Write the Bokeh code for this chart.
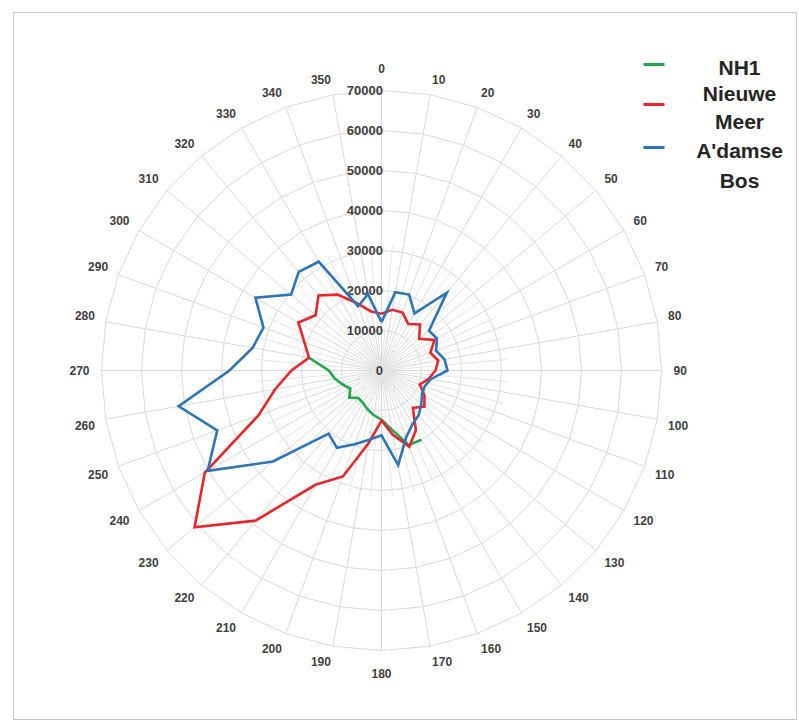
import numpy as np
from bokeh.plotting import figure
from bokeh.models import Range1d, ColumnDataSource
from bokeh.core.properties import value
from bokeh.embed import file_html
from bokeh.resources import INLINE

# ---- data ----
directions = list(range(0, 360, 10))
direction_labels = [str(d) for d in directions]
ring_values = [10000, 20000, 30000, 40000, 50000, 60000, 70000]
ring_labels = ["0", "10000", "20000", "30000", "40000", "50000", "60000", "70000"]

nh1 = [None]*15 + [20000, 19800, 15000, 12300, 11300, 10300, 9300, 9000, 10500,
                   9000, 10300, 11800, 13200, 18400] + [None]*7
nieuwe_meer = [14200, 15400, 15400, 13400, 15000, 12300, 15300, 13000, 14400,
               13500, 12000, 10200, 12400, 14000, 12200, 17200, 20300, 16300,
               12500, 18400, 28200, 33000, 49000, 61000, 51000, 32700, 27000,
               22500, 18400, 20500, 24000, 21500, 24500, 21900, 17900, 15000]
adamse_bos = [12100, 19900, 20200, 16500, 25400, 15500, 16000, 14500, 16000,
              16500, 12500, 11500, 11700, 13000, 14500, 15500, 17900, 24000,
              16200, 17600, 19600, 22300, 20600, 35400, 50200, 43700, 51500,
              38000, 32700, 31400, 36400, 29500, 32200, 31400, 17100, 19400]

series_names = ["NH1", "Nieuwe Meer", "A'damse Bos"]
series_colors = ["#1fa84a", "#e8262b", "#2e75b6"]

# ---- layout helpers ----
S = 250.0  # data units per pixel
theta = np.radians(directions)

W, H = 797, 720
ML, MT = 13, 12
CXF, CYF = 368, 358  # centre inside the frame, pixels
p = figure(width=W, height=H,
           x_range=Range1d(-CXF * S, (W - ML - CXF) * S),
           y_range=Range1d(-(H - MT - CYF) * S, CYF * S),
           x_axis_type=None, y_axis_type=None,
           output_backend="svg", toolbar_location=None,
           min_border_left=ML, min_border_top=MT, min_border_right=0, min_border_bottom=0)
p.grid.visible = False
p.outline_line_color = "#c8c8c8"
p.background_fill_color = "white"
p.border_fill_color = "white"

grid_col = "#d9d9d9"
# rings
for rv in ring_values:
    xs = list(rv * np.sin(theta)) + [rv * np.sin(theta[0])]
    ys = list(rv * np.cos(theta)) + [rv * np.cos(theta[0])]
    p.line(xs, ys, line_color=grid_col, line_width=1)
# spokes
rmax = ring_values[-1]
p.segment(x0=[0]*len(directions), y0=[0]*len(directions),
          x1=list(rmax * np.sin(theta)), y1=list(rmax * np.cos(theta)),
          line_color=grid_col, line_width=1)
# faint extra spokes near the centre
fine = np.radians(np.arange(5, 360, 10))
p.segment(x0=[0]*len(fine), y0=[0]*len(fine),
          x1=list(0.45 * rmax * np.sin(fine)), y1=list(0.45 * rmax * np.cos(fine)),
          line_color="#e6e6e6", line_width=1)

# direction labels: anchored by the corner nearest the centre (Excel style)
lx, ly, la, lb = [], [], [], []
for d, t in zip(directions, theta):
    s, c = np.sin(t), np.cos(t)
    if d % 90 == 0:
        r = (298 if d % 180 == 0 else 292) * S
    else:
        r = 291 * S
    lx.append(r * s); ly.append(r * c)
    la.append("center" if abs(s) < 1e-9 else ("left" if s > 0 else "right"))
    lb.append("middle" if abs(c) < 1e-9 else ("bottom" if c > 0 else "top"))
lab_src = ColumnDataSource(dict(x=lx, y=ly, text=direction_labels, align=la, base=lb))
p.text(x="x", y="y", text="text", source=lab_src,
       text_align="align", text_baseline="base",
       text_font=value("Liberation Sans"), text_font_style="bold",
       text_font_size="12px", text_color="#404040")

# radial labels
p.text(x=[1.5 * S] * len(ring_labels), y=[0] + ring_values, text=ring_labels,
       text_align="right", text_baseline="middle",
       text_font=value("Liberation Sans"), text_font_style="bold",
       text_font_size="13px", text_color="#404040")

# series
def polar(vals, close):
    xs, ys = [], []
    for d, v in zip(directions, vals):
        if v is None:
            xs.append(np.nan); ys.append(np.nan)
        else:
            t = np.radians(d)
            xs.append(v * np.sin(t)); ys.append(v * np.cos(t))
    if close:
        xs.append(xs[0]); ys.append(ys[0])
    return xs, ys

for vals, col, close in [(nh1, series_colors[0], False),
                         (nieuwe_meer, series_colors[1], True),
                         (adamse_bos, series_colors[2], True)]:
    xs, ys = polar(vals, close)
    p.line(xs, ys, line_color=col, line_width=2.6, line_join="miter")

# legend (drawn manually, positions in pixels relative to the chart centre)
cx, cy = 381, 370
def dx(px): return (px - cx) * S
def dy(py): return (cy - py) * S

sw_y = [64, 104, 147]
p.segment(x0=[dx(643)]*3, y0=[dy(v) for v in sw_y], x1=[dx(664)]*3, y1=[dy(v) for v in sw_y],
          line_color=series_colors, line_width=3)
leg_text = ["NH1", "Nieuwe", "Meer", "A'damse", "Bos"]
leg_y = [67, 93, 121, 150, 180]
p.text(x=[dx(739)]*len(leg_text), y=[dy(v) for v in leg_y], text=leg_text,
       text_align="center", text_baseline="middle",
       text_font=value("Liberation Sans"), text_font_style="bold",
       text_font_size="21px", text_color="#262626")

open("out.html", "w").write(file_html(p, INLINE))
